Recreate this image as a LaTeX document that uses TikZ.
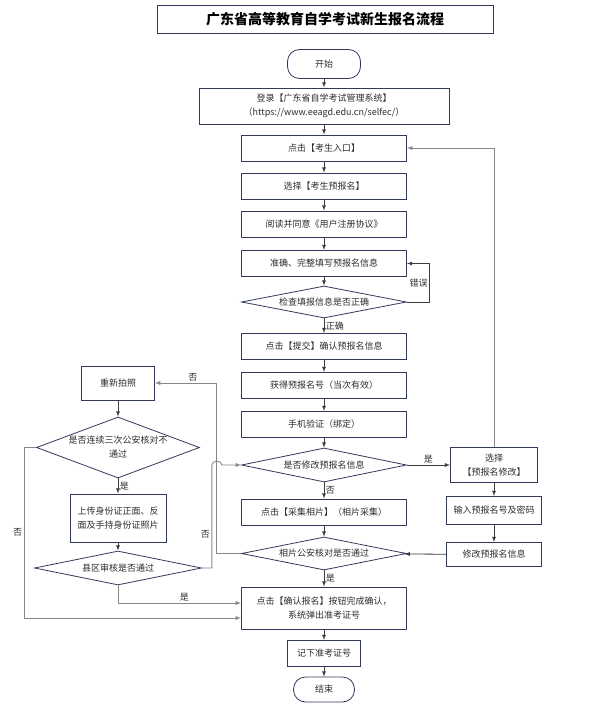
\documentclass[tikz,border=0pt]{standalone}
\usepackage{fontspec}
\setmainfont{Noto Sans CJK SC}
\usetikzlibrary{positioning,shapes.geometric}
\usepackage{xcolor}
\definecolor{boxnavy}{RGB}{50,58,92}
\definecolor{flowgray}{RGB}{60,60,60}
\definecolor{backgray}{RGB}{135,135,135}
\definecolor{textgray}{RGB}{45,45,45}

\begin{document}
\begin{tikzpicture}[x=1pt, y=-1pt, -latex, auto, font=\fontsize{9}{14}\selectfont, text=textgray,
  every edge/.style={draw=flowgray, line width=0.8pt},
  stepbox/.style={rectangle, draw=boxnavy, line width=0.9pt, fill=white, minimum width=165pt, minimum height=26pt, inner sep=0pt, align=center},
  decide/.style={diamond, draw=boxnavy, line width=0.8pt, fill=white, aspect=5, inner sep=0pt, minimum width=165pt, minimum height=33pt, align=center},
  terminal/.style={rectangle, rounded corners=12pt, draw=boxnavy, line width=0.8pt, fill=white, minimum width=73pt, minimum height=29pt},
  flow/.style={draw=flowgray, line width=0.8pt},
  back/.style={draw=backgray, line width=0.9pt},
  tag/.style={inner sep=1.5pt}]
	\useasboundingbox (0,0) rectangle (590,718);
	\node[rectangle, draw=boxnavy, line width=0.9pt, minimum width=336pt, minimum height=28pt, font=\fontsize{14}{16}\selectfont\bfseries, text=black] (title) at (325,19) {广东省高等教育自学考试新生报名流程};
	% main column
	\node[terminal] (start) at (324,64) {开始};
	\node[stepbox, minimum width=250pt, minimum height=36pt] (login) [below of=start, node distance=42pt] {登录【广东省自学考试管理系统】\\（https://www.eeagd.edu.cn/selfec/）};
	\node[stepbox] (entry) [below of=login, node distance=42pt] {点击【考生入口】};
	\node[stepbox] (choose) [below of=entry, node distance=38pt] {选择【考生预报名】};
	\node[stepbox] (agree) [below of=choose, node distance=38pt] {阅读并同意《用户注册协议》};
	\node[stepbox] (fill) [below of=agree, node distance=39.5pt] {准确、完整填写预报名信息};
	\node[decide, minimum height=32pt] (check) [below of=fill, node distance=38.5pt] {检查填报信息是否正确};
	\node[stepbox] (submit) [below of=check, node distance=44.5pt] {点击【提交】确认预报名信息};
	\node[stepbox] (number) [below of=submit, node distance=39pt] {获得预报名号（当次有效）};
	\node[stepbox] (phone) [below of=number, node distance=39pt] {手机验证（绑定）};
	\node[decide, minimum height=34pt] (modq) [below of=phone, node distance=40.5pt] {是否修改预报名信息};
	\node[stepbox] (photo) [below of=modq, node distance=47pt] {点击【采集相片】（相片采集）};
	\node[decide] (photoq) [below of=photo, node distance=41.5pt] {相片公安核对是否通过};
	\node[stepbox, minimum height=42pt] (confirm) [below of=photoq, node distance=54.5pt] {点击【确认报名】按钮完成确认，\\系统弹出准考证号};
	\node[stepbox, minimum width=73pt] (note) [below of=confirm, node distance=45.5pt] {记下准考证号};
	\node[terminal, minimum width=61pt, minimum height=25pt] (finish) [below of=note, node distance=36pt] {结束};
	% left column
	\node[stepbox, minimum width=73pt, minimum height=34pt] (retake) at (118,383) {重新拍照};
	\node[decide, aspect=2.7, minimum width=163pt, minimum height=61pt] (thrice) [below of=retake, node distance=64.5pt] {是否连续三次公安核对不\\通过};
	\node[stepbox, minimum width=96pt, minimum height=48pt] (upload) [below of=thrice, node distance=70.5pt] {上传身份证正面、反\\面及手持身份证照片};
	\node[decide, minimum width=167pt, minimum height=34pt] (county) [below of=upload, node distance=50pt] {县区审核是否通过};
	% right column
	\node[stepbox, minimum width=87pt, minimum height=35pt] (modify) [right of=modq, node distance=170pt] {选择\\【预报名修改】};
	\node[stepbox, minimum width=95pt, minimum height=28pt] (enter) [below of=modify, node distance=45.5pt] {输入预报名号及密码};
	\node[stepbox, minimum width=95pt, minimum height=24pt] (revise) [below of=enter, node distance=44pt] {修改预报名信息};
	% connectors
	\path (start) edge (login)
	      (login) edge (entry)
	      (entry) edge (choose)
	      (choose) edge (agree)
	      (agree) edge (fill)
	      (fill) edge (check)
	      (check) edge node[tag] {正确} (submit)
	      (submit) edge (number)
	      (number) edge (phone)
	      (phone) edge (modq)
	      (modq) edge node[tag] {否} (photo)
	      (photo) edge (photoq)
	      (photoq) edge node[tag] {是} (confirm)
	      (confirm) edge (note)
	      (note) edge (finish)
	      (modq) edge node[tag] {是} (modify)
	      (modify) edge (enter)
	      (enter) edge (revise)
	      (revise) edge (photoq)
	      (retake) edge (thrice)
	      (thrice) edge node[tag] {是} (upload)
	      (upload) edge (county);
	\draw[flow] (check.east) -- ++(22,0) |- node[pos=0.25, fill=white, inner sep=1pt] {错误} (fill.east);
	\draw[back] (modify.north) |- (entry.east);
	\draw[back] (photoq.west) -- ++(-25,0) |- node[pos=0.69, above, tag] {否} (retake.east);
	\draw[back] (county.east) -- ++(10,0) -- node[pos=0.33, left, tag] {否} ++(0,-103) to[out=90, in=90, looseness=1.3] ++(10,0) -- (modq.west);
	\draw[back] (county.south) |- node[pos=0.77, above, tag] {是} ([yshift=5pt]confirm.west);
	\draw[back] (thrice.west) -- ++(-12,0) |- node[pos=0.25, left, tag] {否} ([yshift=-10pt]confirm.west);
\end{tikzpicture}
\end{document}
